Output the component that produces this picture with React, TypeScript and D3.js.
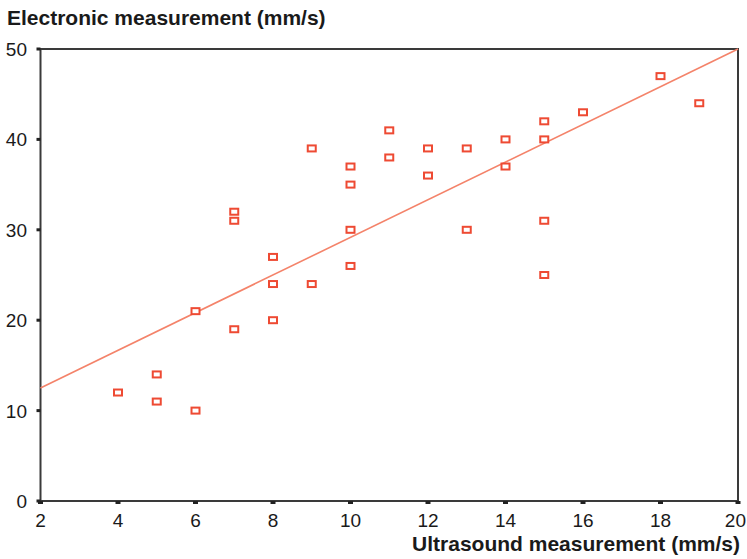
import React from "react";
import * as d3 from "d3";

const xValues = [4, 5, 5, 6, 6, 7, 7, 7, 8, 8, 8, 9, 9, 10, 10, 10, 10, 11, 11, 12, 12, 13, 13, 14, 14, 15, 15, 15, 15, 16, 18, 19];
const yValues = [12, 14, 11, 10, 21, 32, 31, 19, 27, 24, 20, 39, 24, 37, 35, 30, 26, 41, 38, 39, 36, 39, 30, 40, 37, 42, 40, 31, 25, 43, 47, 44];
const xTicks = [2, 4, 6, 8, 10, 12, 14, 16, 18, 20];
const yTicks = [0, 10, 20, 30, 40, 50];
const fitLine = [
  { x: 2, y: 12.5 },
  { x: 20, y: 50 },
];

export default function App() {
  const W = 747, H = 559;
  const x = d3.scaleLinear().domain([2, 20]).range([40.5, 738]);
  const y = d3.scaleLinear().domain([0, 50]).range([501, 49]);
  const line = d3.line<{ x: number; y: number }>().x((d) => x(d.x)).y((d) => y(d.y));
  const font = "Liberation Sans, Arial, sans-serif";
  const axisColor = "#3a3a3a";
  const red = "#ee4a33";
  return (
    <svg width={W} height={H} style={{ position: "absolute", left: 0, top: 0, background: "#fff" }}>
      <text x={7} y={25} fontFamily={font} fontWeight="bold" fontSize={21} fill="#1a1a1a">
        Electronic measurement (mm/s)
      </text>
      <text x={740} y={551} fontFamily={font} fontWeight="bold" fontSize={21} fill="#1a1a1a" textAnchor="end">
        Ultrasound measurement (mm/s)
      </text>
      {/* frame */}
      <rect x={x(2)} y={y(50)} width={x(20) - x(2)} height={y(0) - y(50)} fill="none" stroke={axisColor} strokeWidth={2} />
      {/* fit line */}
      <path d={line(fitLine) || ""} stroke="#f4836a" strokeWidth={1.6} fill="none" />
      {/* points */}
      {xValues.map((xv, i) => (
        <rect key={i} x={x(xv) - 4} y={y(yValues[i]) - 3} width={8} height={6} fill="#fff" stroke={red} strokeWidth={2} />
      ))}
      {/* x ticks */}
      {xTicks.map((t, i) => {
        const last = i === xTicks.length - 1;
        return (
          <g key={"xt" + t}>
            <rect x={x(t) - 2.5} y={y(0)} width={5} height={3} fill="#222" />
            <text
              x={last ? W - 1 : x(t)}
              y={527}
              textAnchor={last ? "end" : "middle"}
              fontFamily={font}
              fontSize={19}
              fill="#1a1a1a"
            >
              {t}
            </text>
          </g>
        );
      })}
      {/* y ticks */}
      {yTicks.map((t) => (
        <g key={"yt" + t}>
          <rect x={x(2) - 4} y={y(t) - 1.5} width={4} height={3} fill="#222" />
          <text x={27} y={y(t) + 7} textAnchor="end" fontFamily={font} fontSize={19} fill="#1a1a1a">
            {t}
          </text>
        </g>
      ))}
    </svg>
  );
}
